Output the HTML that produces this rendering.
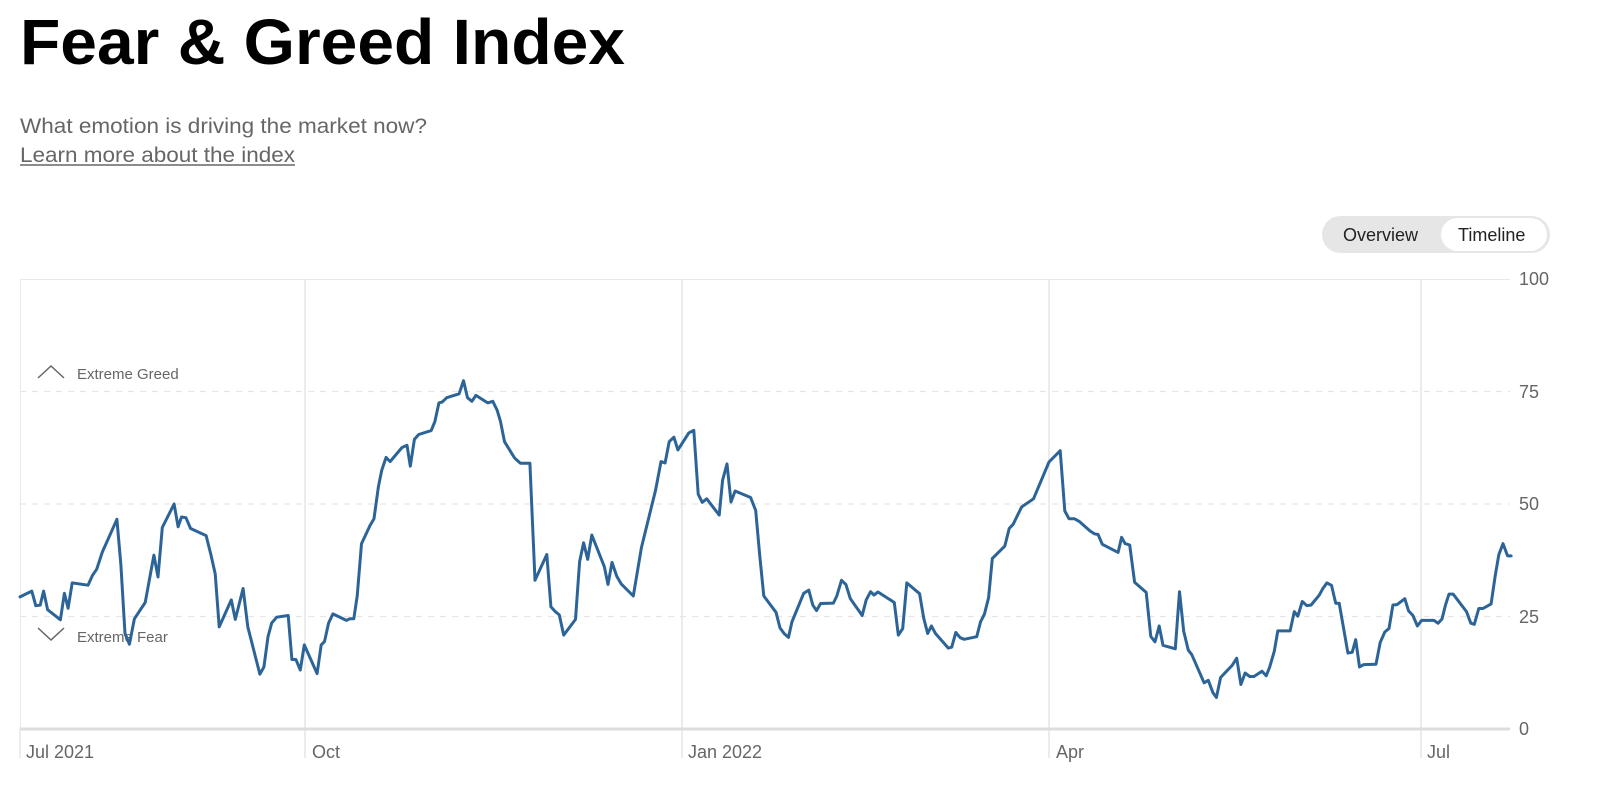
<!DOCTYPE html>
<html><head><meta charset="utf-8"><style>
html,body{margin:0;padding:0;background:#fff;width:1600px;height:802px;overflow:hidden}
svg{display:block;font-family:"Liberation Sans",Arial,sans-serif}
</style></head><body>
<svg id="s" width="1600" height="802" viewBox="0 0 1600 802">
<text x="20" y="64" font-size="64" font-weight="bold" fill="#000" textLength="605" lengthAdjust="spacingAndGlyphs">Fear &amp; Greed Index</text>
<text x="20" y="133" font-size="21" fill="#666" textLength="407" lengthAdjust="spacingAndGlyphs">What emotion is driving the market now?</text>
<text x="20" y="162" font-size="21" fill="#666" textLength="275" lengthAdjust="spacingAndGlyphs">Learn more about the index</text>
<line x1="20" y1="165" x2="295" y2="165" stroke="#666" stroke-width="1.5"/>
<rect x="1322" y="216" width="228" height="37" rx="18.5" fill="#e6e6e6"/>
<rect x="1441" y="218" width="106" height="33" rx="16.5" fill="#fff"/>
<text x="1343" y="241" font-size="18" fill="#222">Overview</text>
<text x="1458" y="241" font-size="18" fill="#222">Timeline</text>
<line x1="20" y1="279.5" x2="1510" y2="279.5" stroke="#e8e8e8" stroke-width="1"/>
<line x1="20.5" y1="279" x2="20.5" y2="729" stroke="#e8e8e8" stroke-width="1"/>
<g stroke="#e6e6e6" stroke-width="1.2" stroke-dasharray="6,6">
<line x1="20" y1="391.5" x2="1510" y2="391.5"/>
<line x1="20" y1="504" x2="1510" y2="504"/>
<line x1="20" y1="616.5" x2="1510" y2="616.5"/>
</g>
<g stroke="#e6e6e6" stroke-width="1.5">
<line x1="305" y1="279" x2="305" y2="758"/>
<line x1="682" y1="279" x2="682" y2="758"/>
<line x1="1049" y1="279" x2="1049" y2="758"/>
<line x1="1421" y1="279" x2="1421" y2="758"/>
<line x1="20" y1="729" x2="20" y2="758"/>
</g>
<line x1="20" y1="729" x2="1510" y2="729" stroke="#ddd" stroke-width="3"/>
<g font-size="18" fill="#666">
<text x="1519" y="285">100</text>
<text x="1519" y="398">75</text>
<text x="1519" y="510">50</text>
<text x="1519" y="623">25</text>
<text x="1519" y="735">0</text>
<text x="26" y="758">Jul 2021</text>
<text x="312" y="758">Oct</text>
<text x="688" y="758">Jan 2022</text>
<text x="1056" y="758">Apr</text>
<text x="1427" y="758">Jul</text>
</g>
<polyline points="38,378 51,366 64,378" fill="none" stroke="#666" stroke-width="1.5"/>
<text x="77" y="379" font-size="15" fill="#666">Extreme Greed</text>
<polyline points="38,628 51,640 64,628" fill="none" stroke="#666" stroke-width="1.5"/>
<text x="77" y="642" font-size="15" fill="#666">Extreme Fear</text>
<polyline id="ln" fill="none" stroke="#2d6498" stroke-width="3" stroke-linejoin="round" stroke-linecap="round" points=""/>
</svg>
<script>
var z1=[60,748,95,730,107,775,120,773,130,730,142,787,180,818,192,737,203,783,215,705,262,712,275,683,288,663,305,610,320,575,348,510,360,650,372,860,385,893,400,815,432,765,458,620,470,687,483,535,518,463,530,533,540,503,553,505,567,538,613,560,627,617,640,677,652,840,688,757,700,817,723,722,737,840,773,985,785,963,797,870,808,828,823,810,857,805,868,940,880,940,893,972,905,895,943,983,955,895,965,885,977,828,990,800,1030,820,1040,815,1052,815,1062,745,1075,585,1100,530,1112,508,1125,410,1135,360,1148,320,1160,333,1195,290,1210,283,1220,347,1232,265,1245,250,1282,238,1293,210,1305,153,1315,150,1328,137,1365,125,1378,85,1390,137,1403,148,1415,130,1450,153,1465,148,1478,175,1488,210,1500,272,1530,322,1547,338,1557,338];
var z2=[60,338,75,697,110,618,122,778,135,793,147,803,160,865,195,817,207,640,219,582,231,633,243,558,280,655,291,710,303,642,317,685,330,708,366,745,390,597,432,420,448,333,460,337,472,272,486,258,498,297,530,245,545,237,558,433,570,458,583,447,620,497,630,390,643,340,655,457,667,423,713,443,728,483,740,620,752,745,788,795,800,843,812,860,825,872,835,825,870,737,885,727,897,773,908,790,920,768,958,767,968,745,982,697,995,710,1008,753,1043,805,1055,757,1068,732,1078,742,1090,733,1138,765,1150,865,1163,845,1175,705,1213,738,1225,813,1237,860,1248,837,1260,860,1298,905,1308,902,1320,857,1333,873,1345,878,1382,870,1393,825,1405,800,1417,750,1428,630,1465,592,1478,538,1490,525,1503,497,1515,472,1550,447];
var z3=[88,760,120,728,133,900,145,922,160,922,175,930,205,957,217,965,228,967,240,995,285,1018,295,975,305,993,318,997,332,1103,365,1132,378,1258,390,1273,402,1228,413,1283,448,1293,460,1130,472,1243,485,1297,495,1310,530,1390,542,1383,555,1418,565,1432,577,1375,610,1340,623,1320,635,1395,647,1362,660,1372,672,1372,695,1357,707,1370,717,1345,730,1300,740,1242,775,1242,787,1187,797,1200,810,1158,823,1170,835,1168,858,1140,868,1122,880,1105,893,1112,905,1163,915,1163,940,1305,952,1303,962,1267,973,1345,985,1338,1020,1337,1032,1275,1045,1245,1057,1235,1068,1168,1080,1167,1102,1150,1113,1185,1125,1198,1138,1228,1150,1212,1185,1212,1197,1220,1208,1208,1218,1168,1228,1137,1240,1137,1252,1153,1278,1187,1290,1220,1300,1223,1313,1178,1325,1178,1348,1165,1360,1083,1370,1025,1382,993,1395,1028,1405,1028];
var pts=[],i;
for(i=0;i<z1.length;i+=2)pts.push([20+(z1[i]-60)*285/847,391.5+(z1[i+1]-118)*225/690]);
for(i=0;i<z2.length;i+=2)pts.push([682+(z2[i]-510)*0.338,391.5+(z2[i+1]-118)*225/690]);
for(i=0;i<z3.length;i+=2)pts.push([1049+(z3[i]-88)/2.85,279+(z3[i+1]-238)/2.853]);
document.getElementById('ln').setAttribute('points',pts.map(function(p){return p[0].toFixed(1)+','+p[1].toFixed(1)}).join(' '));
</script>
</body></html>
